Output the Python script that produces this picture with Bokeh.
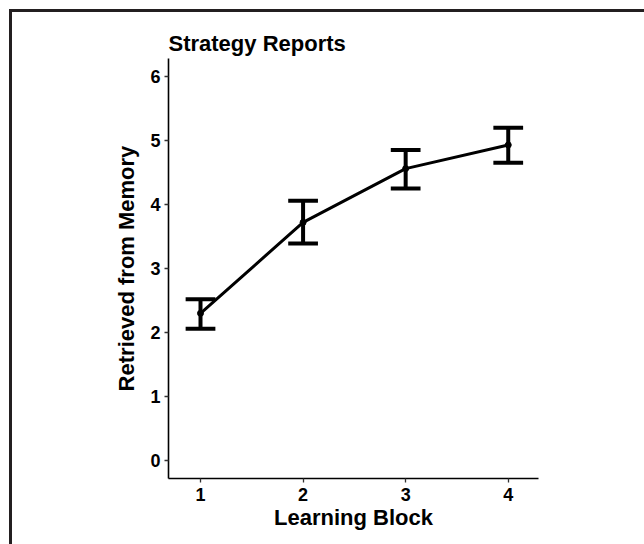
from bokeh.plotting import figure
from bokeh.models import Range1d, FixedTicker
from bokeh.embed import file_html
from bokeh.resources import INLINE

# Mean strategy report per learning block, with error-bar limits
blocks = [1, 2, 3, 4]
means = [2.30, 3.72, 4.56, 4.93]
upper = [2.52, 4.06, 4.85, 5.20]
lower = [2.06, 3.39, 4.25, 4.65]
y_ticks = [0, 1, 2, 3, 4, 5, 6]

FONT = "Liberation Sans"
INK = "#000000"
cap_half = 0.145

p = figure(
    width=644, height=544,
    output_backend="svg", toolbar_location=None, tools="",
    x_range=Range1d(0.688, 4.295), y_range=Range1d(-0.28, 6.28),
    min_border_left=168, min_border_right=106,
    min_border_top=58, min_border_bottom=66,
    title="Strategy Reports",
)
# page frame along the top and left edges, painted behind a transparent border area
p.styles = {
    "background": (
        "linear-gradient(#231f20, #231f20) 9px 9px / 3px 100% no-repeat, "
        "linear-gradient(#231f20, #231f20) 9px 9px / 100% 3px no-repeat, "
        "white"
    ),
}

p.background_fill_color = "white"
p.border_fill_color = None
p.outline_line_color = None
p.grid.visible = False

p.title.text_font = FONT
p.title.text_font_style = "bold"
p.title.text_font_size = "22px"
p.title.text_color = INK
p.title.align = "left"
p.title.offset = 0
p.title.standoff = 6

for ax in (p.xaxis[0], p.yaxis[0]):
    ax.axis_line_color = INK
    ax.axis_line_width = 1.6
    ax.major_tick_line_color = "#333333"
    ax.major_tick_line_width = 1.3
    ax.major_tick_out = 4
    ax.major_tick_in = 0
    ax.minor_tick_line_color = None
    ax.major_label_text_font = FONT
    ax.major_label_text_font_style = "bold"
    ax.major_label_text_font_size = "18px"
    ax.major_label_text_color = INK
    ax.axis_label_text_font = FONT
    ax.axis_label_text_font_style = "bold"
    ax.axis_label_text_font_size = "22px"
    ax.axis_label_text_color = INK

p.xaxis.ticker = FixedTicker(ticks=blocks)
p.yaxis.ticker = FixedTicker(ticks=y_ticks)
p.xaxis.axis_label = "Learning Block"
p.yaxis.axis_label = "Retrieved from Memory"
p.xaxis.major_label_standoff = 5
p.yaxis.major_label_standoff = 4
p.xaxis.axis_label_standoff = 1
p.yaxis.axis_label_standoff = 8

# error bars: stems and caps
p.segment(x0=blocks, y0=lower, x1=blocks, y1=upper, line_color=INK, line_width=4)
p.segment(x0=[b - cap_half for b in blocks], y0=upper,
          x1=[b + cap_half for b in blocks], y1=upper, line_color=INK, line_width=4)
p.segment(x0=[b - cap_half for b in blocks], y0=lower,
          x1=[b + cap_half for b in blocks], y1=lower, line_color=INK, line_width=4)

# mean trajectory
p.line(blocks, means, line_color=INK, line_width=3)
p.scatter(blocks, means, size=6, color=INK)

open("out.html", "w").write(file_html(p, INLINE))
